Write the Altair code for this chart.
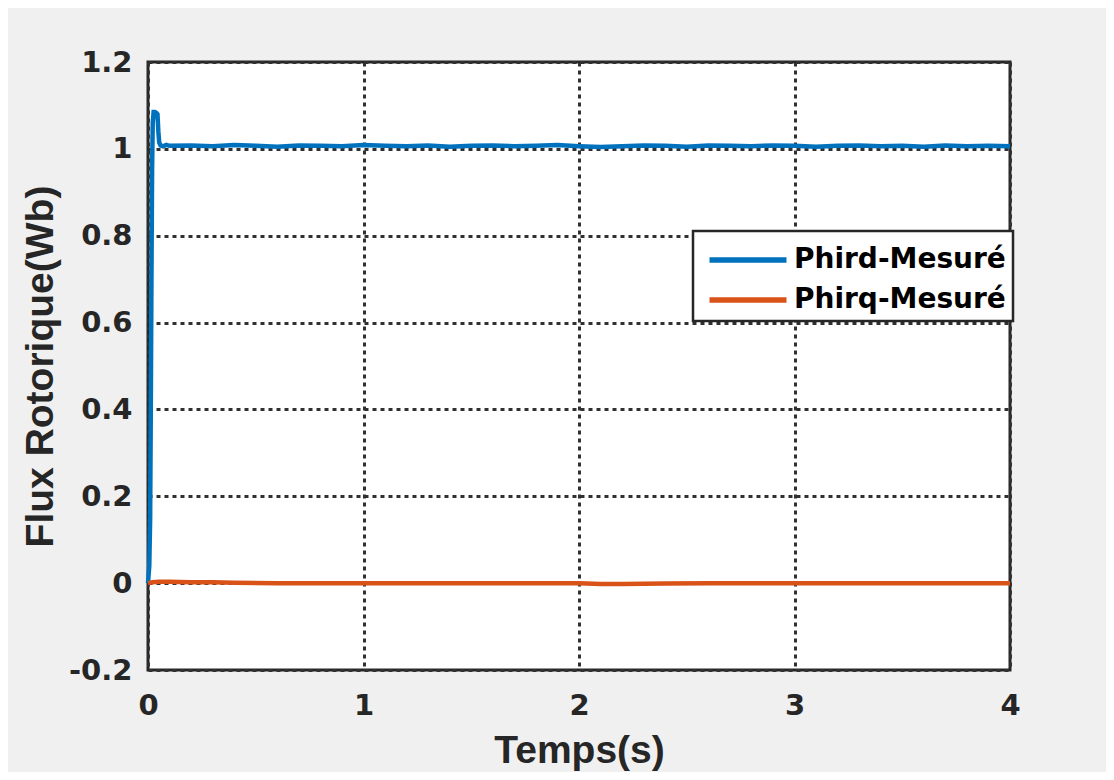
import altair as alt
import pandas as pd

# ---- data ----
series_names = ["Phird-Mesuré", "Phirq-Mesuré"]
series_colors = ["#0072BD", "#D95319"]

t_d = [0, 0.006, 0.01, 0.013, 0.016, 0.019, 0.022, 0.026, 0.032, 0.038, 0.044,
       0.048, 0.052, 0.058, 0.07, 0.085, 0.1,
       0.2, 0.3, 0.4, 0.5, 0.6, 0.7, 0.8, 0.9, 1.0, 1.1, 1.2, 1.3, 1.4, 1.5,
       1.6, 1.7, 1.8, 1.9, 2.0, 2.1, 2.2, 2.3, 2.4, 2.5, 2.6, 2.7, 2.8, 2.9,
       3.0, 3.1, 3.2, 3.3, 3.4, 3.5, 3.6, 3.7, 3.8, 3.9, 4.0]
phird = [0, 0.04, 0.15, 0.4, 0.7, 0.95, 1.06, 1.085, 1.085, 1.083, 1.08,
         1.04, 1.015, 1.008, 1.006, 1.009, 1.007,
         1.008, 1.006, 1.009, 1.007, 1.005, 1.008, 1.007, 1.006, 1.009, 1.007,
         1.006, 1.008, 1.005, 1.007, 1.008, 1.006, 1.007, 1.009, 1.006, 1.004,
         1.006, 1.008, 1.007, 1.005, 1.008, 1.007, 1.006, 1.008, 1.007, 1.005,
         1.007, 1.008, 1.006, 1.007, 1.005, 1.008, 1.006, 1.007, 1.006]

t_q = [0, 0.02, 0.05, 0.1, 0.2, 0.3, 0.4, 0.6, 1.0, 1.5, 2.0, 2.1, 2.2, 2.4,
       2.6, 3.0, 3.5, 4.0]
phirq = [0, 0.002, 0.003, 0.003, 0.002, 0.002, 0.001, 0, 0, 0, 0, -0.002,
         -0.002, -0.001, 0, 0, 0, 0]

x_ticks = [0, 1, 2, 3, 4]
y_ticks = [-0.2, 0, 0.2, 0.4, 0.6, 0.8, 1.0, 1.2]

df = pd.concat([
    pd.DataFrame({"t": t_d, "v": phird, "series": series_names[0], "o": 0}),
    pd.DataFrame({"t": t_q, "v": phirq, "series": series_names[1], "o": 1}),
], ignore_index=True)

num_fmt = "datum.value < 0 ? '-' + format(-datum.value, '~g') : format(datum.value, '~g')"


def build(with_stroke_width):
    legend_kw = dict(
        orient="none", legendX=545, legendY=169, title=None,
        symbolType="M-2,0L2,0", symbolSize=1482, symbolStrokeWidth=5.5,
        symbolOffset=26,
        labelFont="DejaVu Sans", labelFontWeight="bold", labelFontSize=28,
        labelColor="black", labelLimit=400, labelOffset=24,
        strokeColor="#262626", fillColor="white", padding=7, rowPadding=4,
    )
    chart = alt.Chart(df).mark_line(strokeWidth=4.5).encode(
        x=alt.X("t:Q", scale=alt.Scale(domain=[0, 4], nice=False, zero=False),
                axis=alt.Axis(values=x_ticks, title="Temps(s)", labelExpr=num_fmt,
                              labelFlush=False, labelPadding=21, titlePadding=11)),
        y=alt.Y("v:Q", scale=alt.Scale(domain=[-0.2, 1.2], nice=False, zero=False),
                axis=alt.Axis(values=y_ticks, title="Flux Rotorique(Wb)", labelExpr=num_fmt,
                              labelFlush=False, labelPadding=16, titlePadding=8)),
        color=alt.Color("series:N", scale=alt.Scale(domain=series_names, range=series_colors),
                        legend=alt.Legend(**legend_kw)),
        order=alt.Order("o:Q"),
    ).properties(
        width=862, height=608,
        padding={"left": 140, "top": 54, "right": 96, "bottom": 102},
        autosize=alt.AutoSizeParams(type="none"),
        background="#f0f0f0",
    )
    legend_cfg = {"strokeWidth": 2.5} if with_stroke_width else {}
    chart = chart.configure_view(
        stroke="#262626", strokeWidth=3, fill="white"
    ).configure_axis(
        ticks=False, domain=False,
        grid=True, gridColor="#303030", gridDash=[4, 4], gridWidth=3, gridOpacity=1,
        labelFont="DejaVu Sans", labelFontWeight="bold", labelFontSize=29, labelColor="#262626",
        titleFont="Liberation Sans", titleFontWeight="bold", titleFontSize=39, titleColor="#262626",
        labelOverlap=False,
    ).configure_legend(**legend_cfg)
    return chart


try:
    chart = build(True)
    chart.save("out.html", embed_options={"renderer": "svg", "actions": False})
except Exception:
    chart = build(False)
    chart.save("out.html", embed_options={"renderer": "svg", "actions": False})
